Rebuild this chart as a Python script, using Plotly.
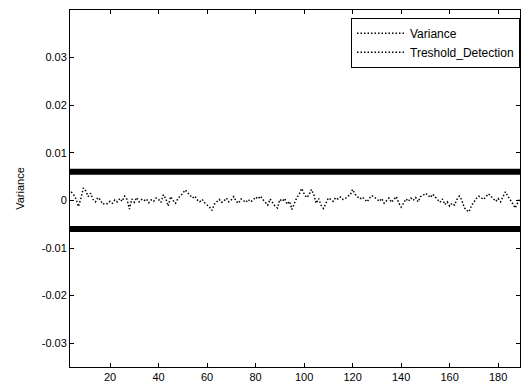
import plotly.graph_objects as go

x_start = 4
variance = [
    0.0018, 0.0012, 0.0003, -0.0013, 0.0005, 0.0026, 0.0020, 0.0008, 0.0015, 0.0002,
    -0.0003, 0.0006, 0.0001, -0.0008, -0.0006, -0.0007, -0.0002, -0.0006, 0.0001, -0.0003,
    0.0004, -0.0002, 0.0009, 0.0002, -0.0018, 0.0003, -0.0004, 0.0006, -0.0003, 0.0002,
    -0.0001, 0.0003, -0.0005, 0.0001, -0.0002, 0.0005, 0.0002, -0.0004, 0.0012, 0.0004,
    -0.0012, 0.0008, 0.0000, -0.0006, 0.0004, 0.0009, 0.0015, 0.0022, 0.0016, 0.0010,
    0.0005, 0.0009, 0.0001, -0.0003, 0.0002, -0.0005, -0.0009, -0.0014, -0.0021, -0.0008,
    -0.0003, 0.0002, -0.0004, -0.0001, 0.0005, -0.0003, 0.0001, 0.0008, -0.0002, -0.0006,
    0.0003, -0.0001, -0.0004, 0.0002, -0.0003, 0.0001, 0.0007, 0.0003, 0.0009, 0.0002,
    -0.0004, -0.0010, 0.0003, -0.0006, -0.0012, -0.0016, 0.0002, -0.0002, 0.0004, -0.0008,
    -0.0002, -0.0019, -0.0005, 0.0006, 0.0013, 0.0025, 0.0014, 0.0006, 0.0011, 0.0023,
    0.0012, -0.0006, 0.0004, -0.0010, -0.0017, -0.0004, 0.0005, 0.0002, -0.0002, 0.0006,
    0.0003, 0.0007, 0.0002, 0.0004, 0.0009, 0.0011, 0.0023, 0.0013, 0.0009, 0.0003,
    0.0007, 0.0001, -0.0003, 0.0005, 0.0010, 0.0006, 0.0003, -0.0002, 0.0004, -0.0006,
    -0.0001, 0.0005, -0.0004, 0.0003, 0.0008, -0.0005, -0.0014, -0.0006, 0.0003, -0.0002,
    0.0005, 0.0000, 0.0006, -0.0003, 0.0008, 0.0010, 0.0015, 0.0012, 0.0006, 0.0013,
    0.0007, 0.0002, -0.0004, 0.0003, -0.0009, -0.0003, -0.0012, -0.0006, -0.0010, 0.0002,
    0.0009, 0.0001, -0.0015, -0.0021, -0.0024, -0.0011, -0.0003, 0.0004, 0.0009, 0.0005,
    0.0002, 0.0008, 0.0014, 0.0009, 0.0003, -0.0002, 0.0004, -0.0003, 0.0008, 0.0018,
    0.0009, 0.0002, -0.0007, -0.0016, -0.0004, 0.0005,
]
threshold = 0.006
x_range = [3.5, 189]
y_range = [-0.035, 0.04]
x_ticks = [20, 40, 60, 80, 100, 120, 140, 160, 180]
y_ticks = [-0.03, -0.02, -0.01, 0, 0.01, 0.02, 0.03]
y_ticklabels = ["-0.03", "-0.02", "-0.01", "0", "0.01", "0.02", "0.03"]

xs = list(range(x_start, x_start + len(variance)))

FONT = "Liberation Sans, Arial, sans-serif"

fig = go.Figure()
fig.add_trace(go.Scatter(
    x=xs, y=variance, mode="lines", name="Variance",
    line=dict(color="black", width=1.5, dash="1.5px,2px"),
))
fig.add_trace(go.Scatter(
    x=[x_range[0], x_range[1], None, x_range[0], x_range[1]],
    y=[threshold, threshold, None, -threshold, -threshold],
    mode="lines", showlegend=False,
    line=dict(color="black", width=6),
))
fig.add_trace(go.Scatter(
    x=[None], y=[None], mode="lines", name="Treshold_Detection",
    line=dict(color="black", width=1.5, dash="1.5px,2px"),
))

axis_common = dict(
    showline=True, linecolor="black", linewidth=1, mirror="ticks",
    ticks="inside", ticklen=4, tickcolor="black", showgrid=False, zeroline=False,
    tickfont=dict(family=FONT, size=11, color="black"),
)

fig.update_layout(
    width=521, height=385,
    margin=dict(l=70, r=1, t=10, b=18),
    paper_bgcolor="white", plot_bgcolor="white",
    xaxis=dict(range=x_range, tickvals=x_ticks, **axis_common),
    yaxis=dict(range=y_range, tickvals=y_ticks, ticktext=y_ticklabels,
               title=dict(text="Variance", standoff=14,
                          font=dict(family=FONT, size=11, color="black")),
               **axis_common),
    legend=dict(x=1, y=0.978, xanchor="right", yanchor="top",
                bgcolor="white", bordercolor="black", borderwidth=1,
                font=dict(family=FONT, size=12, color="black"),
                tracegroupgap=0, itemwidth=48),
    font=dict(family=FONT, size=11, color="black"),
)

fig.write_html("out.html")
